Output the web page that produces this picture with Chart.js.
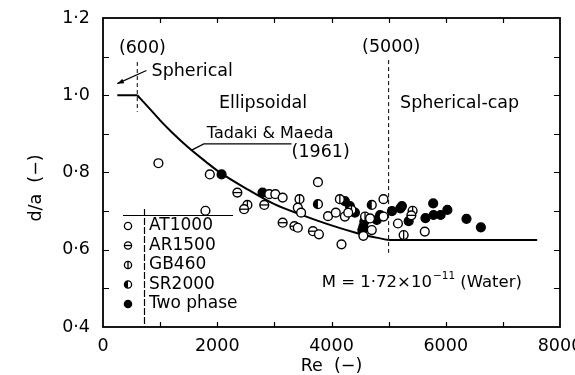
<!DOCTYPE html>
<html><head><meta charset="utf-8">
<script src="https://cdn.jsdelivr.net/npm/chart.js@4/dist/chart.umd.min.js"></script>
<style>html,body{margin:0;padding:0;background:#fff}</style>
</head><body>
<canvas id="c" width="575" height="375"></canvas>
<script>
// ---------- data ----------
const xTickLabels = ['0', '2000', '4000', '6000', '8000'];
const yTickLabels = ['0·4', '0·6', '0·8', '1·0', '1·2'];
const seriesNames = ['AT1000', 'AR1500', 'GB460', 'SR2000', 'Two phase'];

const at1000Re = [970, 1793, 1870, 2910, 3016, 3145, 3763, 3410, 3468, 3410, 3780, 4175, 3939, 4075, 4234, 4293, 4910, 4705, 4558, 4675, 4910, 5163, 5633];
const at1000DA = [0.824, 0.701, 0.795, 0.744, 0.744, 0.735, 0.775, 0.709, 0.696, 0.657, 0.640, 0.614, 0.687, 0.696, 0.686, 0.696, 0.731, 0.651, 0.636, 0.681, 0.686, 0.668, 0.647];

const ar1500Re = [2352, 2470, 2823, 3145, 3351, 3675, 5398];
const ar1500DA = [0.748, 0.705, 0.716, 0.670, 0.661, 0.648, 0.689];

const gb460Re = [2528, 3440, 4146, 4350, 4587, 5420, 5263];
const gb460DA = [0.716, 0.731, 0.731, 0.703, 0.686, 0.701, 0.638];

const sr2000Re = [3763, 4705];
const sr2000DA = [0.718, 0.716];

const twoPhaseRe = [2076, 2793, 4234, 4322, 4410, 4558, 4540, 4575, 4793, 4850, 5058, 5204, 5233, 5351, 5645, 5786, 5910, 5780, 6028, 6363, 6615];
const twoPhaseDA = [0.795, 0.748, 0.726, 0.713, 0.696, 0.660, 0.651, 0.673, 0.677, 0.690, 0.700, 0.707, 0.713, 0.674, 0.682, 0.690, 0.690, 0.720, 0.703, 0.680, 0.658];

// Tadaki & Maeda (1961) correlation: spherical plateau, ellipsoidal curve, spherical-cap plateau
const sphericalRe = [250, 600];
const sphericalDA = [1.0, 1.0];
const curveRe = [600, 800, 1000, 1200, 1500, 1800, 2000, 2500, 3000, 3500, 4000, 4500, 5000];
const curveDA = [1.0, 0.968, 0.935, 0.905, 0.864, 0.828, 0.805, 0.759, 0.718, 0.689, 0.663, 0.641, 0.625];
const capRe = [5000, 7600];
const capDA = [0.625, 0.625];

// regime boundaries (dashed)
const bound600Re = [600, 600];
const bound600DA = [1.086, 0.957];
const bound5000Re = [5000, 5000];
const bound5000DA = [1.091, 0.592];

// ---------- helpers ----------
const FONT = '"DejaVu Sans", sans-serif';
const kinds = ['open', 'hbar', 'vbar', 'half', 'filled'];
function pts(xs, ys) { return xs.map((x, i) => ({ x: x, y: ys[i] })); }
function decorate(ctx, kind, x, y, r) {
  ctx.save();
  ctx.strokeStyle = '#000'; ctx.fillStyle = '#000'; ctx.lineWidth = 1.3;
  if (kind === 'half') {
    ctx.beginPath(); ctx.moveTo(x, y - r); ctx.arc(x, y, r, -Math.PI / 2, Math.PI / 2, true); ctx.closePath(); ctx.fill();
  } else if (kind === 'hbar') {
    ctx.beginPath(); ctx.moveTo(x - r, y); ctx.lineTo(x + r, y); ctx.stroke();
  } else if (kind === 'vbar') {
    ctx.beginPath(); ctx.moveTo(x, y - r); ctx.lineTo(x, y + r); ctx.stroke();
  }
  ctx.restore();
}
function drawMarker(ctx, kind, x, y, r) {
  ctx.save();
  ctx.beginPath(); ctx.arc(x, y, r, 0, 2 * Math.PI);
  ctx.fillStyle = kind === 'filled' ? '#000' : '#fff'; ctx.fill();
  ctx.restore();
  decorate(ctx, kind, x, y, r);
  ctx.save(); ctx.strokeStyle = '#000'; ctx.lineWidth = 1.3;
  ctx.beginPath(); ctx.arc(x, y, r, 0, 2 * Math.PI); ctx.stroke(); ctx.restore();
}

// ---------- plugins ----------
const markerPlugin = {
  id: 'markerDeco',
  afterDatasetDraw(chart, args) {
    const ds = chart.data.datasets[args.index];
    if (!ds.markerKind || ds.markerKind === 'open' || ds.markerKind === 'filled') return;
    const ctx = chart.ctx;
    args.meta.data.forEach(el => decorate(ctx, ds.markerKind, el.x, el.y, ds.pointRadius));
  }
};

const framePlugin = {
  id: 'frame',
  afterDraw(chart) {
    const { ctx, chartArea: a } = chart; const xs = chart.scales.x, ys = chart.scales.y;
    ctx.save();
    ctx.strokeStyle = '#000'; ctx.lineWidth = 1.8;
    ctx.strokeRect(a.left, a.top, a.right - a.left, a.bottom - a.top);
    ctx.lineWidth = 1.2;
    ctx.beginPath();
    for (let v = 1000; v < 8000; v += 1000) {
      const p = Math.round(xs.getPixelForValue(v)) + 0.5;
      ctx.moveTo(p, a.bottom); ctx.lineTo(p, a.bottom - 5);
      ctx.moveTo(p, a.top); ctx.lineTo(p, a.top + 5);
    }
    for (let k = 5; k < 12; k++) {
      const p = Math.round(ys.getPixelForValue(k / 10)) + 0.5;
      ctx.moveTo(a.left, p); ctx.lineTo(a.left + 6, p);
      ctx.moveTo(a.right, p); ctx.lineTo(a.right - 6, p);
    }
    ctx.stroke();
    // y axis title
    ctx.fillStyle = '#000'; ctx.font = '17.5px ' + FONT;
    ctx.translate(36, ys.getPixelForValue(0.76)); ctx.rotate(-Math.PI / 2);
    ctx.textAlign = 'center'; ctx.textBaseline = 'middle';
    ctx.fillText('d/a  (−)', 0, 0);
    ctx.restore();
  }
};

const annotPlugin = {
  id: 'annot',
  afterDatasetsDraw(chart) {
    const { ctx } = chart; const xs = chart.scales.x, ys = chart.scales.y;
    const X = v => xs.getPixelForValue(v), Y = v => ys.getPixelForValue(v);
    const F = '17.5px ' + FONT;
    ctx.save();
    ctx.fillStyle = '#000'; ctx.strokeStyle = '#000';
    ctx.font = F; ctx.textBaseline = 'middle';
    ctx.textAlign = 'center';
    ctx.fillText('(600)', X(690), Y(1.12));
    ctx.fillText('(5000)', X(5045), Y(1.125));
    ctx.fillText('(1961)', X(3810), Y(0.853));
    ctx.textAlign = 'left';
    ctx.fillText('Spherical', X(850), Y(1.062));
    ctx.fillText('Ellipsoidal', X(2030), Y(0.98));
    ctx.fillText('Spherical-cap', X(5200), Y(0.98));
    ctx.font = '16px ' + FONT;
    ctx.fillText('Tadaki & Maeda', X(1817), Y(0.9));
    // M text with superscript
    const FM = '16.5px ' + FONT;
    ctx.font = FM;
    let x0 = X(3830); const y0 = Y(0.514);
    const t1 = 'M = 1·72×10';
    ctx.fillText(t1, x0, y0); x0 += ctx.measureText(t1).width + 1;
    ctx.font = '10.5px ' + FONT;
    ctx.fillText('−11', x0, y0 - 7); x0 += ctx.measureText('−11').width;
    ctx.font = FM;
    ctx.fillText(' (Water)', x0, y0);
    // arrow to spherical region
    ctx.lineWidth = 1.2;
    const ax1 = X(760), ay1 = Y(1.064), ax2 = X(250), ay2 = Y(1.03);
    ctx.beginPath(); ctx.moveTo(ax1, ay1); ctx.lineTo(ax2, ay2); ctx.stroke();
    const ang = Math.atan2(ay2 - ay1, ax2 - ax1);
    ctx.beginPath(); ctx.moveTo(ax2, ay2);
    ctx.lineTo(ax2 - 7 * Math.cos(ang - 0.35), ay2 - 7 * Math.sin(ang - 0.35));
    ctx.lineTo(ax2 - 7 * Math.cos(ang + 0.35), ay2 - 7 * Math.sin(ang + 0.35));
    ctx.closePath(); ctx.fill();
    // leader line for the curve label
    ctx.beginPath();
    ctx.moveTo(X(1552), Y(0.858)); ctx.lineTo(X(1764), Y(0.874)); ctx.lineTo(X(3300), Y(0.874));
    ctx.stroke();
    ctx.restore();
  }
};

const legendPlugin = {
  id: 'lg',
  afterDraw(chart) {
    const { ctx, chartArea: a } = chart;
    ctx.save();
    ctx.strokeStyle = '#000'; ctx.lineWidth = 1.2;
    ctx.beginPath();
    ctx.moveTo(a.left + 20, a.top + 197.5); ctx.lineTo(a.left + 130, a.top + 197.5);
    ctx.stroke();
    ctx.setLineDash([7, 2]);
    ctx.beginPath();
    ctx.moveTo(a.left + 41.5, a.top + 191); ctx.lineTo(a.left + 41.5, a.bottom);
    ctx.stroke();
    ctx.setLineDash([]);
    ctx.fillStyle = '#000'; ctx.font = '17px ' + FONT;
    ctx.textAlign = 'left'; ctx.textBaseline = 'middle';
    seriesNames.forEach((n, i) => {
      const y = a.top + 208 + i * 19.5;
      drawMarker(ctx, kinds[i], a.left + 25, y, 3.6);
      ctx.fillStyle = '#000';
      ctx.fillText(n, a.left + 46, y);
    });
    ctx.restore();
  }
};

// ---------- chart ----------
const seriesRe = [at1000Re, ar1500Re, gb460Re, sr2000Re, twoPhaseRe];
const seriesDA = [at1000DA, ar1500DA, gb460DA, sr2000DA, twoPhaseDA];
const datasets = seriesNames.map((n, i) => ({
  label: n, data: pts(seriesRe[i], seriesDA[i]), markerKind: kinds[i],
  pointStyle: 'circle', pointRadius: 4.4, pointBorderWidth: 1.4,
  pointBorderColor: '#000', pointBackgroundColor: kinds[i] === 'filled' ? '#000' : '#fff',
  showLine: false, order: 1
}));
const lineDefaults = { showLine: true, borderColor: '#000', pointRadius: 0, order: 5 };
datasets.push(Object.assign({ label: 'Tadaki & Maeda (1961)', data: pts(curveRe, curveDA),
  borderWidth: 2, cubicInterpolationMode: 'monotone' }, lineDefaults));
datasets.push(Object.assign({ label: 'Spherical plateau', data: pts(sphericalRe, sphericalDA), borderWidth: 2 }, lineDefaults));
datasets.push(Object.assign({ label: 'Spherical-cap plateau', data: pts(capRe, capDA), borderWidth: 2 }, lineDefaults));
datasets.push(Object.assign({ label: 'Re 600', data: pts(bound600Re, bound600DA), borderWidth: 1, borderDash: [4, 3] }, lineDefaults));
datasets.push(Object.assign({ label: 'Re 5000', data: pts(bound5000Re, bound5000DA), borderWidth: 1, borderDash: [4, 3] }, lineDefaults));

new Chart(document.getElementById('c'), {
  type: 'scatter',
  data: { datasets },
  options: {
    responsive: false, animation: false, devicePixelRatio: 1,
    layout: { padding: { top: 18, right: 15, left: 0, bottom: 0 } },
    plugins: { legend: { display: false }, tooltip: { enabled: false } },
    scales: {
      x: {
        type: 'linear', min: 0, max: 8000,
        grid: { display: false, drawTicks: false }, border: { display: false },
        ticks: { stepSize: 2000, padding: 9, color: '#000', font: { family: FONT, size: 17.5 },
          callback: (v, i) => xTickLabels[i] },
        title: { display: true, text: 'Re  (−)', color: '#000', font: { family: FONT, size: 17.5, lineHeight: 1 },
          padding: { top: 0, bottom: 0 } },
        afterFit: s => { s.height = 48; s.paddingLeft = 0; s.paddingRight = 0; }
      },
      y: {
        type: 'linear', min: 0.4, max: 1.2,
        grid: { display: false, drawTicks: false }, border: { display: false },
        ticks: { stepSize: 0.2, padding: 13, color: '#000', font: { family: FONT, size: 17.5 },
          callback: (v, i) => yTickLabels[i] },
        afterFit: s => { s.width = 103; s.paddingTop = 0; s.paddingBottom = 0; }
      }
    }
  },
  plugins: [markerPlugin, framePlugin, annotPlugin, legendPlugin]
});
</script>
</body></html>
